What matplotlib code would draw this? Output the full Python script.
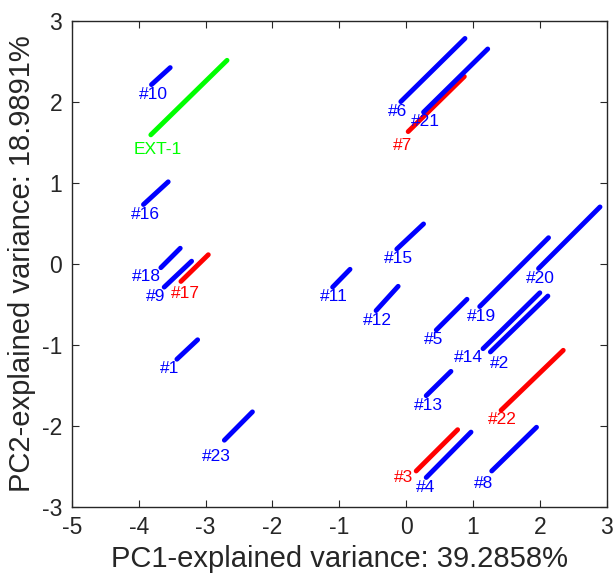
import matplotlib
matplotlib.use("Agg")
import matplotlib.pyplot as plt

plt.rcParams["font.family"] = ["Liberation Sans", "DejaVu Sans"]
plt.rcParams["axes.unicode_minus"] = False

# sample names, start/end points of each segment (PC1, PC2), and group
names = ["#1", "#2", "#3", "#4", "#5", "#6", "#7", "#8", "#9", "#10", "#11", "#12",
         "#13", "#14", "#15", "#16", "#17", "#18", "#19", "#20", "#21", "#22", "#23", "EXT-1"]
x_start = [-3.43, 1.26, 0.15, 0.30, 0.45, -0.08, 0.03, 1.28, -3.62, -3.81, -1.10, -0.45,
           0.30, 1.15, -0.14, -3.93, -3.37, -3.67, 1.10, 1.98, 0.26, 1.42, -2.72, -3.82]
y_start = [-1.18, -1.09, -2.56, -2.64, -0.82, 2.00, 1.63, -2.56, -0.29, 2.21, -0.29, -0.58,
           -1.63, -1.05, 0.18, 0.73, -0.22, -0.05, -0.53, -0.06, 1.87, -1.81, -2.18, 1.59]
x_end = [-3.12, 2.12, 0.77, 0.97, 0.91, 0.88, 0.87, 1.95, -3.21, -3.53, -0.84, -0.12,
         0.67, 2.00, 0.26, -3.56, -2.96, -3.38, 2.13, 2.90, 1.22, 2.35, -2.30, -2.68]
y_end = [-0.94, -0.40, -2.05, -2.08, -0.44, 2.78, 2.31, -2.02, 0.03, 2.42, -0.07, -0.28,
         -1.33, -0.36, 0.49, 1.01, 0.11, 0.19, 0.32, 0.70, 2.65, -1.07, -1.83, 2.51]
group = ["b", "b", "r", "b", "b", "b", "r", "b", "b", "b", "b", "b",
         "b", "b", "b", "b", "r", "b", "b", "b", "b", "r", "b", "g"]

colors = {"b": "#0000ff", "r": "#ff0000", "g": "#00ff00"}

# label offset from segment start, some shifted by hand to avoid overlap
default_off = (-0.19, -0.12)
label_off = {"#1": (-0.26, -0.12), "#23": (-0.34, -0.20), "#9": (-0.28, -0.12),
             "#17": (-0.15, -0.15), "#18": (-0.43, -0.11), "EXT-1": (-0.25, -0.18),
             "#7": (-0.23, -0.17), "#14": (-0.43, -0.11), "#2": (0.0, -0.14),
             "#3": (-0.33, -0.08), "#8": (-0.26, -0.16), "#4": (-0.16, -0.12)}

fig = plt.figure(figsize=(6.15, 5.81), dpi=100)
ax = fig.add_axes([0.117, 0.128, 0.8695, 0.8365])

for i, name in enumerate(names):
    c = colors[group[i]]
    ax.plot([x_start[i], x_end[i]], [y_start[i], y_end[i]], color=c, lw=3.5,
            solid_capstyle="round")
    dx, dy = label_off.get(name, default_off)
    ax.text(x_start[i] + dx, y_start[i] + dy, name, color=c, fontsize=12.5,
            ha="left", va="center")

ax.set_xlim(-5, 3)
ax.set_ylim(-3, 3)
ax.set_xticks(range(-5, 4))
ax.set_yticks(range(-3, 4))
ax.tick_params(direction="in", top=True, right=True, length=5, labelsize=16.5,
               colors="#262626", pad=7)
for sp in ax.spines.values():
    sp.set_color("#262626")
    sp.set_linewidth(1.0)

ax.set_xlabel("PC1-explained variance: 39.2858%", fontsize=21, color="#262626",
              labelpad=4)
ax.set_ylabel("PC2-explained variance: 18.9891%", fontsize=21, color="#262626",
              labelpad=4)

fig.savefig("out.png", dpi=100)
